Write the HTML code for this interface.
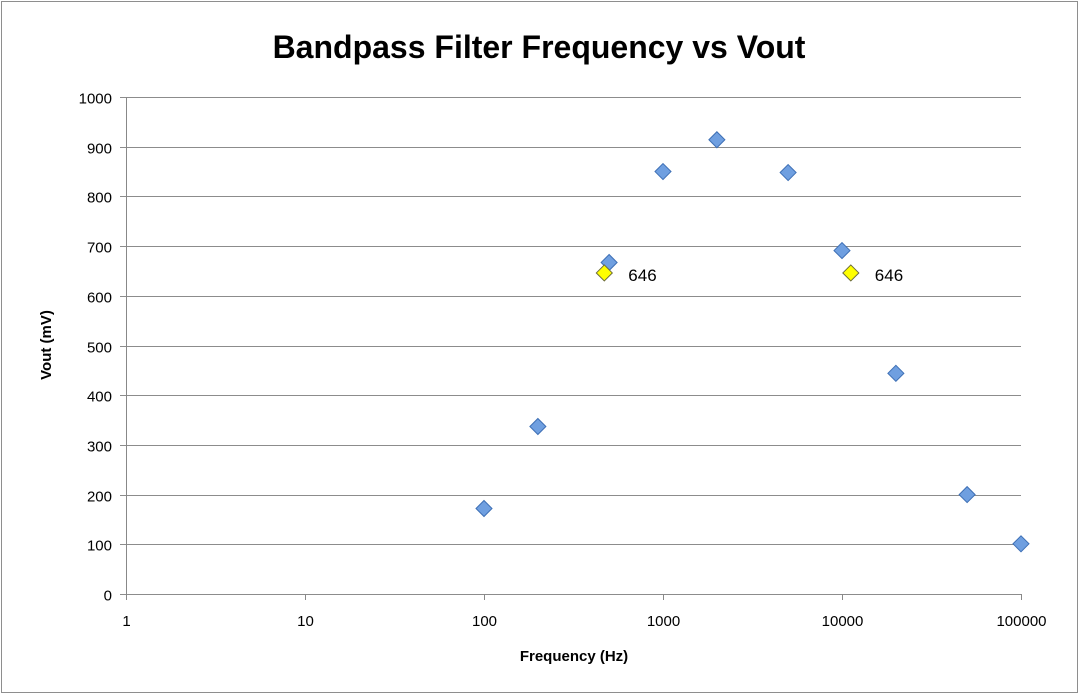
<!DOCTYPE html>
<html><head><meta charset="utf-8"><style>
body{margin:0;background:#fff;}
svg text{font-family:"Liberation Sans",sans-serif;}
</style></head><body>
<svg id="chart" width="1080" height="695">
<rect x="1.5" y="1.5" width="1076" height="691" fill="#fff" stroke="#8e8e8e"/>
<text x="539" y="58" text-anchor="middle" font-size="32" font-weight="bold">Bandpass Filter Frequency vs Vout</text>
<g id="grid"></g><g id="axes"></g><g id="marks"></g>
<text x="574" y="661" text-anchor="middle" font-size="15" font-weight="bold">Frequency (Hz)</text>
<text transform="translate(51,345) rotate(-90)" text-anchor="middle" font-size="15" font-weight="bold">Vout (mV)</text>
</svg>
<script>
const freqs=[100,200,500,1000,2000,5000,10000,20000,50000,100000];
const vouts=[172,337,667,850,914,848,691,444,200,101];
const cutFreqs=[470,11200];
const cutVouts=[646,646];
const cutLabels=["646","646"];
const yTicks=[0,100,200,300,400,500,600,700,800,900,1000];
const xTicks=[1,10,100,1000,10000,100000];
const X0=126,X1=1021,Y0=594,Y1=97;
const xs=v=>X0+(Math.log10(v)-0)/5*(X1-X0);
const ys=v=>Y0-v/1000*(Y0-Y1);
const NS="http://www.w3.org/2000/svg";
function mk(tag,attrs,parent,txt){const e=document.createElementNS(NS,tag);for(const k in attrs)e.setAttribute(k,attrs[k]);if(txt!=null)e.textContent=txt;document.getElementById(parent).appendChild(e);return e;}
yTicks.forEach(t=>{
 const y=Math.round(ys(t))+0.5;
 const l=mk('line',{x1:X0-6,x2:X1,y1:y,y2:y,stroke:'#8c8c8c','stroke-width':1},'grid');
 
 
 const tx=mk('text',{x:X0-14,y:y+6,'text-anchor':'end','font-size':15},'axes',t);
 
 
});
mk('line',{x1:X0+0.5,x2:X0+0.5,y1:Y1,y2:Y0+6,stroke:'#888'},'axes');
xTicks.forEach(t=>{
 const x=Math.round(xs(t))+0.5;
 const l=mk('line',{x1:x,x2:x,y1:Y0,y2:Y0+6,stroke:'#888'},'axes');
 
 
 const tx=mk('text',{x:x,y:Y0+32,'text-anchor':'middle','font-size':15},'axes',t);
 
 
});
function diamond(x,y){return `${x},${y-8} ${x+8},${y} ${x},${y+8} ${x-8},${y}`;}
freqs.forEach((f,i)=>{
 const x=xs(f),y=ys(vouts[i]);
 const p=mk('polygon',{points:diamond(x,y),fill:'#6f9fe0',stroke:'#3d6fb5','stroke-width':1},'marks');
 
 
});
cutFreqs.forEach((f,i)=>{
 const x=xs(f),y=ys(cutVouts[i]);
 const p=mk('polygon',{points:diamond(x,y),fill:'#ffff00',stroke:'#6b6b3a','stroke-width':1},'marks');
 
 
 const t=mk('text',{x:x+24,y:y+8,'font-size':17},'marks',cutLabels[i]);
 
 
});
</script>
</body></html>
